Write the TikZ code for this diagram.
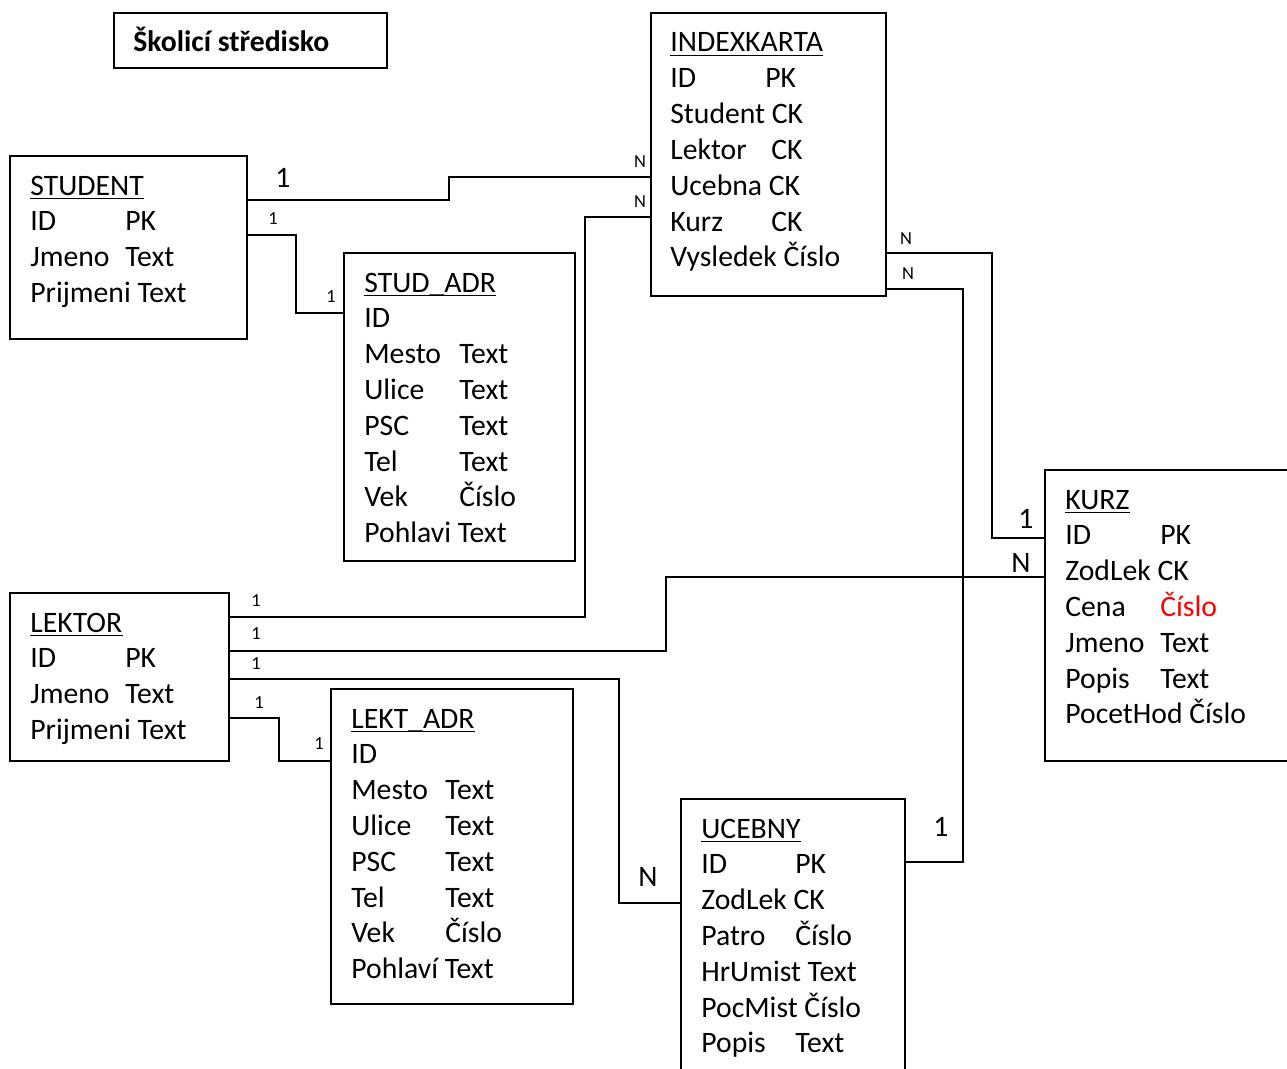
\documentclass[tikz,border=0pt]{standalone}
\usepackage{fontspec}
\setmainfont{Carlito}
\usetikzlibrary{calc}
\tikzset{
  ent/.style={draw, line width=1.1pt, inner sep=0pt, outer sep=0pt, anchor=north west},
  fld/.style={anchor=base west, inner sep=0pt, font=\fontsize{16.9pt}{20pt}\selectfont},
  hdr/.style={fld},
  card/.style={inner sep=0pt, font=\fontsize{16.9pt}{20pt}\selectfont},
  tiny/.style={inner sep=0pt, font=\fontsize{10.5pt}{12pt}\selectfont},
  rel/.style={line width=1.1pt},
  uline/.style={line width=1pt}
}
\newcommand\ulhdr[1]{\draw[uline] ($(#1.base west)+(0,3.5)$) -- ($(#1.base east)+(0,3.5)$);}
\begin{document}
\begin{tikzpicture}[x=0.02cm,y=-0.02cm]
\useasboundingbox (0,0) rectangle (1287,1068);
\clip (0,0) rectangle (1287,1068);
\fill[white] (0,0) rectangle (1287,1068);

% title
\node[ent, minimum width=273*0.02cm, minimum height=55*0.02cm] (title) at (114,13) {};
\node[fld, font=\fontsize{16.9pt}{20pt}\selectfont\bfseries] (titletext) at (133,52) {Školicí středisko};

% entity boxes
\node[ent, minimum width=237*0.02cm, minimum height=183*0.02cm] (student) at (10,156) {};
\node[ent, minimum width=235*0.02cm, minimum height=283*0.02cm] (idx) at (651,13) {};
\node[ent, minimum width=231*0.02cm, minimum height=308*0.02cm] (studadr) at (344,253) {};
\node[ent, minimum width=219*0.02cm, minimum height=168*0.02cm] (lektor) at (10,593) {};
\node[ent, minimum width=242*0.02cm, minimum height=315*0.02cm] (lektadr) at (331,689) {};
\node[ent, minimum width=262*0.02cm, minimum height=291*0.02cm] (kurz) at (1045,470) {};
\node[ent, minimum width=224*0.02cm, minimum height=292*0.02cm] (ucebny) at (681,799) {};

% STUDENT
\node[hdr] (st0) at (30,195) {STUDENT}; \ulhdr{st0}
\node[fld] (st1) at (30,230.8) {ID};
\node[fld] (st1b) at (125,230.8) {PK};
\node[fld] (st2) at (30,266.6) {Jmeno};
\node[fld] (st2b) at (125,266.6) {Text};
\node[fld] (st3) at (30,302.4) {Prijmeni Text};

% INDEXKARTA
\node[hdr] (ix0) at (670,52) {INDEXKARTA}; \ulhdr{ix0}
\node[fld] (ix1) at (670,87.8) {ID};
\node[fld] (ix1b) at (765,87.8) {PK};
\node[fld] (ix2) at (670,123.6) {Student CK};
\node[fld] (ix3) at (670,159.4) {Lektor};
\node[fld] (ix3b) at (771,159.4) {CK};
\node[fld] (ix4) at (670,195.2) {Ucebna CK};
\node[fld] (ix5) at (670,231) {Kurz};
\node[fld] (ix5b) at (771,231) {CK};
\node[fld] (ix6) at (670,266.8) {Vysledek Číslo};

% STUD_ADR
\node[hdr] (sa0) at (364,292) {STUD\_ADR}; \ulhdr{sa0}
\node[fld] (sa1) at (364,327.8) {ID};
\node[fld] (sa2) at (364,363.6) {Mesto};
\node[fld] (sa2b) at (459,363.6) {Text};
\node[fld] (sa3) at (364,399.4) {Ulice};
\node[fld] (sa3b) at (459,399.4) {Text};
\node[fld] (sa4) at (364,435.2) {PSC};
\node[fld] (sa4b) at (459,435.2) {Text};
\node[fld] (sa5) at (364,471) {Tel};
\node[fld] (sa5b) at (459,471) {Text};
\node[fld] (sa6) at (364,506.8) {Vek};
\node[fld] (sa6b) at (459,506.8) {Číslo};
\node[fld] (sa7) at (364,542.6) {Pohlavi Text};

% LEKTOR
\node[hdr] (lk0) at (30,632) {LEKTOR}; \ulhdr{lk0}
\node[fld] (lk1) at (30,667.8) {ID};
\node[fld] (lk1b) at (125,667.8) {PK};
\node[fld] (lk2) at (30,703.6) {Jmeno};
\node[fld] (lk2b) at (125,703.6) {Text};
\node[fld] (lk3) at (30,739.4) {Prijmeni Text};

% LEKT_ADR
\node[hdr] (la0) at (351,728) {LEKT\_ADR}; \ulhdr{la0}
\node[fld] (la1) at (351,763.8) {ID};
\node[fld] (la2) at (351,799.6) {Mesto};
\node[fld] (la2b) at (445,799.6) {Text};
\node[fld] (la3) at (351,835.4) {Ulice};
\node[fld] (la3b) at (445,835.4) {Text};
\node[fld] (la4) at (351,871.2) {PSC};
\node[fld] (la4b) at (445,871.2) {Text};
\node[fld] (la5) at (351,907) {Tel};
\node[fld] (la5b) at (445,907) {Text};
\node[fld] (la6) at (351,942.8) {Vek};
\node[fld] (la6b) at (445,942.8) {Číslo};
\node[fld] (la7) at (351,978.6) {Pohlaví Text};

% KURZ
\node[hdr] (kz0) at (1065,509) {KURZ}; \ulhdr{kz0}
\node[fld] (kz1) at (1065,544.8) {ID};
\node[fld] (kz1b) at (1160,544.8) {PK};
\node[fld] (kz2) at (1065,580.6) {ZodLek CK};
\node[fld] (kz3) at (1065,616.4) {Cena};
\node[fld, text=red] (kz3b) at (1160,616.4) {Číslo};
\node[fld] (kz4) at (1065,652.2) {Jmeno};
\node[fld] (kz4b) at (1160,652.2) {Text};
\node[fld] (kz5) at (1065,688) {Popis};
\node[fld] (kz5b) at (1160,688) {Text};
\node[fld] (kz6) at (1065,723.8) {PocetHod Číslo};

% UCEBNY
\node[hdr] (uc0) at (701,838) {UCEBNY}; \ulhdr{uc0}
\node[fld] (uc1) at (701,873.8) {ID};
\node[fld] (uc1b) at (795,873.8) {PK};
\node[fld] (uc2) at (701,909.6) {ZodLek CK};
\node[fld] (uc3) at (701,945.4) {Patro};
\node[fld] (uc3b) at (795,945.4) {Číslo};
\node[fld] (uc4) at (701,981.2) {HrUmist Text};
\node[fld] (uc5) at (701,1017) {PocMist Číslo};
\node[fld] (uc6) at (701,1052.8) {Popis};
\node[fld] (uc6b) at (795,1052.8) {Text};

% relationships
\draw[rel] ($(student.north east)+(0,44)$) -- (449,200) |- ($(idx.north west)+(0,164)$);
\draw[rel] ($(student.north east)+(0,79)$) -- (296,235) |- ($(studadr.north west)+(0,60)$);
\draw[rel] ($(lektor.north east)+(0,24)$) -- (585,617) |- ($(idx.north west)+(0,204)$);
\draw[rel] ($(lektor.north east)+(0,58)$) -- (666,651) |- ($(kurz.north west)+(0,107)$);
\draw[rel] ($(lektor.north east)+(0,86)$) -- (619,679) |- ($(ucebny.north west)+(0,104)$);
\draw[rel] ($(lektor.north east)+(0,125)$) -- (279,718) |- ($(lektadr.north west)+(0,72)$);
\draw[rel] ($(idx.north east)+(0,240)$) -- (992,253) |- ($(kurz.north west)+(0,68)$);
\draw[rel] ($(idx.north east)+(0,276)$) -- (963,289) |- ($(ucebny.north east)+(0,63)$);

% cardinalities
\node[card] (c1a) at (283,178) {1};
\node[tiny] (c1b) at (640,162) {N};
\node[tiny] (c2a) at (273,219) {1};
\node[tiny] (c2b) at (331,297) {1};
\node[tiny] (c3a) at (256,601) {1};
\node[tiny] (c3b) at (640,202) {N};
\node[tiny] (c4a) at (256,634) {1};
\node[card] (c4b) at (1021,563) {N};
\node[tiny] (c5a) at (256,664) {1};
\node[card] (c5b) at (648,877) {N};
\node[tiny] (c6a) at (259,703) {1};
\node[tiny] (c6b) at (319,744) {1};
\node[tiny] (c7a) at (906,239) {N};
\node[card] (c7b) at (1026,519) {1};
\node[tiny] (c8a) at (908,274) {N};
\node[card] (c8b) at (941,827) {1};
\end{tikzpicture}
\end{document}
